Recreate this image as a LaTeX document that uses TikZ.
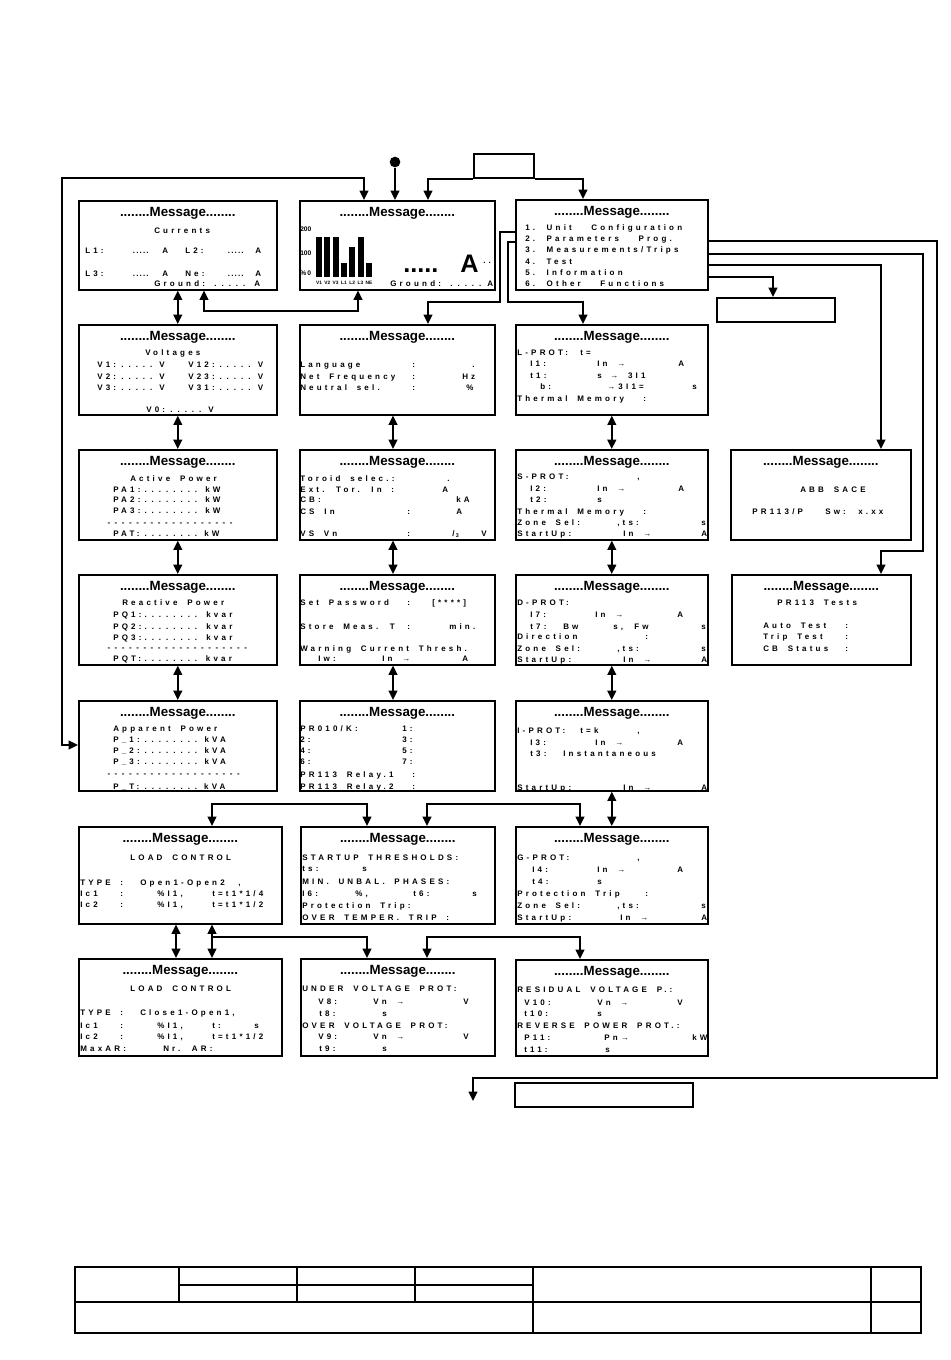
\documentclass[tikz,border=0pt]{standalone}
\usepackage{fontspec}
\setmainfont{Liberation Sans}
\newfontfamily\lcdf[LetterSpace=40,WordSpace=1.8]{Liberation Sans}
\usetikzlibrary{arrows.meta}
\newdimen\lcdcell \lcdcell=5.4pt
\newcommand\ldr[1]{\leaders\hbox to\lcdcell{\hss\rmfamily.\hss}\hskip#1\lcdcell\relax\kern0pt}
\newcommand\dsh[1]{\leaders\hbox to\lcdcell{\hss\rmfamily-\hss}\hskip#1\lcdcell\relax\kern0pt}
\newcommand\tdots{\leaders\hbox to 2.55pt{\hss\rmfamily.\hss}\hskip 12.75pt\relax\kern0pt}
\newcounter{tn}
\newcommand\tx[3]{\stepcounter{tn}\node[lcd] (t\arabic{tn}) at (#1,#2) {#3};}
\newcommand\mbx[5]{\node[box, minimum width=#4, minimum height=#5] (#1) at (#2,#3) {};
 \node[ttl] (#1h) at ([yshift=-9.75pt]#1.north) {........Message........};}
\tikzset{
 box/.style={draw, line width=1.2pt, inner sep=0pt, anchor=north west},
 ebox/.style={draw, line width=1.3pt, inner sep=0pt, anchor=north west, minimum height=18pt},
 ttl/.style={font=\bfseries\fontsize{10pt}{12pt}\selectfont, inner sep=0pt},
 lcd/.style={font=\lcdf\bfseries\fontsize{6pt}{8pt}\selectfont, inner sep=0pt, anchor=mid west},
 ax/.style={font=\bfseries\fontsize{5pt}{6pt}\selectfont, inner sep=0pt, anchor=mid west},
 tiny/.style={font=\bfseries\fontsize{3.6pt}{4pt}\selectfont, inner sep=0pt},
 big/.style={font=\bfseries\fontsize{19pt}{20pt}\selectfont, inner sep=0pt, anchor=base west},
 con/.style={line width=1.4pt},
 arr/.style={con, -{Triangle[length=7pt,width=6.5pt]}},
 dbl/.style={con, {Triangle[length=7pt,width=6.5pt]}-{Triangle[length=7pt,width=6.5pt]}},
}
\begin{document}
\begin{tikzpicture}[x=0.75pt,y=-0.75pt]
\useasboundingbox (0,0) rectangle (950,1360);

% ---------- boxes ----------
\mbx{b11}{78}{200}{148.5pt}{66.75pt}
\mbx{b12}{299}{200}{146.25pt}{66.75pt}
\mbx{b13}{515}{199}{144pt}{67.5pt}
\mbx{b21}{78}{324}{148.5pt}{67.5pt}
\mbx{b22}{299}{324}{146.25pt}{67.5pt}
\mbx{b23}{515}{324}{144pt}{67.5pt}
\mbx{b31}{78}{449}{148.5pt}{67.5pt}
\mbx{b32}{299}{449}{146.25pt}{67.5pt}
\mbx{b33}{515}{449}{144pt}{67.5pt}
\mbx{b34}{730}{449}{135pt}{67.5pt}
\mbx{b41}{78}{574}{148.5pt}{67.5pt}
\mbx{b42}{299}{574}{146.25pt}{67.5pt}
\mbx{b43}{515}{574}{144pt}{67.5pt}
\mbx{b44}{731}{574}{134.25pt}{67.5pt}
\mbx{b51}{78}{700}{148.5pt}{67.5pt}
\mbx{b52}{299}{700}{146.25pt}{67.5pt}
\mbx{b53}{515}{700}{144pt}{67.5pt}
\mbx{b61}{78}{826}{152.25pt}{72.75pt}
\mbx{b62}{300}{826}{145.5pt}{72.75pt}
\mbx{b63}{515}{826}{144pt}{72.75pt}
\mbx{b71}{78}{958}{152.25pt}{72.75pt}
\mbx{b72}{300}{958}{145.5pt}{72.75pt}
\mbx{b73}{515}{959}{144pt}{72pt}

\node[ebox, minimum width=45pt] (eb1) at (473,153) {};
\node[ebox, minimum width=88.5pt] (eb2) at (716,297) {};
\node[ebox, minimum width=133.5pt] (eb3) at (514,1082) {};
\node[circle, fill, inner sep=0pt, minimum size=8pt] (dot) at (395,162) {};

% ---------- texts ----------
% b11 Currents
\tx{154}{230}{Currents}
\tx{85}{250}{L1:} \tx{132}{250}{\tdots} \tx{162}{250}{A} \tx{185}{250}{L2:} \tx{227}{250}{\tdots} \tx{255}{250}{A}
\tx{85}{273}{L3:} \tx{132}{273}{\tdots} \tx{162}{273}{A} \tx{185}{273}{Ne:} \tx{227}{273}{\tdots} \tx{255}{273}{A}
\tx{154}{283}{Ground:\ldr{6}} \tx{254}{283}{A}
% b12 bar graph
\node[ax] (ax1) at (300,228) {200};
\node[ax] (ax2) at (300,252) {100};
\node[ax] (ax3) at (300,272) {\%\,0};
\foreach \xx/\tt/\ll [count=\i] in {316/237/V1, 324.3/237/V2, 332.6/237/V3, 341/263/L1, 349.2/247/L2, 357.5/237/L3, 366/263/NE} {
  \fill (\xx,\tt) rectangle (\xx+6,277);
  \node[tiny] (lb\i) at (\xx+3,283) {\ll};
}
\node[big] (bigdots) at (403,272) {.....};
\node[big] (bigA) at (460,272) {A};
\tx{483}{260}{..}
\tx{390}{283}{Ground:\ldr{6}} \tx{487}{283}{A}
% b13 menu
\tx{525}{227}{1. Unit~~Configuration}
\tx{525}{238}{2. Parameters~~Prog.}
\tx{525}{249}{3. Measurements/Trips}
\tx{525}{261}{4. Test}
\tx{525}{272}{5. Information}
\tx{525}{283}{6. Other~~Functions}
% b21 Voltages
\tx{145}{352}{Voltages}
\tx{97}{364}{V1:\ldr{6}V} \tx{188}{364}{V12:\ldr{6}V}
\tx{97}{376}{V2:\ldr{6}V} \tx{188}{376}{V23:\ldr{6}V}
\tx{97}{387}{V3:\ldr{6}V} \tx{188}{387}{V31:\ldr{6}V}
\tx{146}{409}{V0:\ldr{6}V}
% b22
\tx{300}{364}{Language} \tx{412}{364}{:} \tx{472}{364}{.}
\tx{300}{376}{Net Frequency} \tx{412}{376}{:} \tx{462}{376}{Hz}
\tx{300}{387}{Neutral sel.} \tx{412}{387}{:} \tx{466}{387}{\%}
% b23 L-PROT
\tx{517}{352}{L-PROT:} \tx{580}{352}{t=}
\tx{530}{363}{I1:} \tx{597}{363}{In →} \tx{678}{363}{A}
\tx{530}{375}{t1:} \tx{597}{375}{s} \tx{610}{375}{→ 3I1}
\tx{540}{386}{b:} \tx{607}{386}{→3I1=} \tx{692}{386}{s}
\tx{517}{398}{Thermal Memory} \tx{643}{398}{:}
% b31 Active power
\tx{130}{478}{Active Power}
\tx{113}{489}{PA1:\ldr{9}kW}
\tx{113}{499}{PA2:\ldr{9}kW}
\tx{113}{510}{PA3:\ldr{9}kW}
\tx{105}{522}{\dsh{18}}
\tx{113}{533}{PAT:\ldr{9}kW}
% b32
\tx{300}{478}{Toroid selec.:} \tx{447}{478}{.}
\tx{300}{489}{Ext. Tor. In :} \tx{442}{489}{A}
\tx{300}{499}{CB:} \tx{456}{499}{kA}
\tx{300}{511}{CS In} \tx{407}{511}{:} \tx{456}{511}{A}
\tx{300}{533}{VS Vn} \tx{407}{533}{:} \tx{452}{533}{/\,\raisebox{-1pt}{\fontsize{4pt}{4pt}\selectfont 3}} \tx{481}{533}{V}
% b33 S-PROT
\tx{517}{476}{S-PROT:} \tx{637}{476}{,}
\tx{530}{488}{I2:} \tx{597}{488}{In →} \tx{678}{488}{A}
\tx{530}{499}{t2:} \tx{597}{499}{s}
\tx{517}{511}{Thermal Memory} \tx{643}{511}{:}
\tx{517}{522}{Zone Sel:} \tx{617}{522}{,ts:} \tx{701}{522}{s}
\tx{517}{533}{StartUp:} \tx{623}{533}{In →} \tx{701}{533}{A}
% b34
\tx{800}{489}{ABB SACE}
\tx{752}{511}{PR113/P} \tx{825}{511}{Sw:} \tx{858}{511}{x.xx}
% b41 Reactive
\tx{122}{602}{Reactive Power}
\tx{113}{614}{PQ1:\ldr{9}kvar}
\tx{113}{626}{PQ2:\ldr{9}kvar}
\tx{113}{637}{PQ3:\ldr{9}kvar}
\tx{105}{647}{\dsh{20}}
\tx{113}{658}{PQT:\ldr{9}kvar}
% b42
\tx{300}{602}{Set Password} \tx{407}{602}{:} \tx{432}{602}{[****]}
\tx{300}{626}{Store Meas. T} \tx{407}{626}{:} \tx{449}{626}{min.}
\tx{300}{648}{Warning Current Thresh.}
\tx{318}{658}{Iw:} \tx{382}{658}{In →} \tx{462}{658}{A}
% b43 D-PROT
\tx{517}{602}{D-PROT:}
\tx{530}{614}{I7:} \tx{595}{614}{In →} \tx{677}{614}{A}
\tx{530}{626}{t7:} \tx{563}{626}{Bw} \tx{613}{626}{s,} \tx{634}{626}{Fw} \tx{701}{626}{s}
\tx{517}{636}{Direction} \tx{645}{636}{:}
\tx{517}{648}{Zone Sel:} \tx{617}{648}{,ts:} \tx{701}{648}{s}
\tx{517}{659}{StartUp:} \tx{623}{659}{In →} \tx{701}{659}{A}
% b44
\tx{777}{602}{PR113 Tests}
\tx{763}{625}{Auto Test} \tx{845}{625}{:}
\tx{763}{636}{Trip Test} \tx{845}{636}{:}
\tx{763}{648}{CB Status} \tx{845}{648}{:}
% b51 Apparent
\tx{113}{728}{Apparent Power}
\tx{113}{739}{P\_1:\ldr{9}kVA}
\tx{113}{750}{P\_2:\ldr{9}kVA}
\tx{113}{761}{P\_3:\ldr{9}kVA}
\tx{105}{773}{\dsh{19}}
\tx{113}{786}{P\_T:\ldr{9}kVA}
% b52
\tx{300}{728}{PR010/K:} \tx{402}{728}{1:}
\tx{300}{739}{2:} \tx{402}{739}{3:}
\tx{300}{750}{4:} \tx{402}{750}{5:}
\tx{300}{761}{6:} \tx{402}{761}{7:}
\tx{300}{774}{PR113 Relay.1} \tx{412}{774}{:}
\tx{300}{786}{PR113 Relay.2} \tx{412}{786}{:}
% b53 I-PROT
\tx{517}{730}{I-PROT:} \tx{580}{730}{t=k} \tx{637}{730}{,}
\tx{530}{742}{I3:} \tx{595}{742}{In →} \tx{677}{742}{A}
\tx{530}{753}{t3:} \tx{563}{753}{Instantaneous}
\tx{517}{787}{StartUp:} \tx{623}{787}{In →} \tx{701}{787}{A}
% b61
\tx{130}{857}{LOAD CONTROL}
\tx{80}{882}{TYPE} \tx{120}{882}{:} \tx{140}{882}{Open1-Open2} \tx{238}{882}{,}
\tx{80}{893}{Ic1} \tx{120}{893}{:} \tx{157}{893}{\%I1,} \tx{212}{893}{t=t1*1/4}
\tx{80}{904}{Ic2} \tx{120}{904}{:} \tx{157}{904}{\%I1,} \tx{212}{904}{t=t1*1/2}
% b71
\tx{130}{988}{LOAD CONTROL}
\tx{80}{1012}{TYPE} \tx{120}{1012}{:} \tx{140}{1012}{Close1-Open1,}
\tx{80}{1025}{Ic1} \tx{120}{1025}{:} \tx{157}{1025}{\%I1,} \tx{212}{1025}{t:} \tx{254}{1025}{s}
\tx{80}{1036}{Ic2} \tx{120}{1036}{:} \tx{157}{1036}{\%I1,} \tx{212}{1036}{t=t1*1/2}
\tx{80}{1048}{MaxAR:} \tx{163}{1048}{Nr. AR:}
% b62
\tx{302}{857}{STARTUP THRESHOLDS:}
\tx{302}{868}{ts:} \tx{362}{868}{s}
\tx{302}{881}{MIN. UNBAL. PHASES:}
\tx{302}{893}{I6:} \tx{355}{893}{\%,} \tx{413}{893}{t6:} \tx{472}{893}{s}
\tx{302}{905}{Protection Trip:}
\tx{302}{917}{OVER TEMPER. TRIP :}
% b72
\tx{302}{988}{UNDER VOLTAGE PROT:}
\tx{318}{1001}{V8:} \tx{373}{1001}{Vn →} \tx{463}{1001}{V}
\tx{319}{1013}{t8:} \tx{382}{1013}{s}
\tx{302}{1025}{OVER VOLTAGE PROT:}
\tx{318}{1036}{V9:} \tx{373}{1036}{Vn →} \tx{463}{1036}{V}
\tx{319}{1048}{t9:} \tx{382}{1048}{s}
% b63 G-PROT
\tx{517}{857}{G-PROT:} \tx{637}{857}{,}
\tx{532}{869}{I4:} \tx{597}{869}{In →} \tx{677}{869}{A}
\tx{532}{881}{t4:} \tx{597}{881}{s}
\tx{517}{893}{Protection Trip} \tx{645}{893}{:}
\tx{517}{905}{Zone Sel:} \tx{617}{905}{,ts:} \tx{701}{905}{s}
\tx{517}{917}{StartUp:} \tx{620}{917}{In →} \tx{701}{917}{A}
% b73
\tx{517}{989}{RESIDUAL VOLTAGE P.:}
\tx{524}{1002}{V10:} \tx{597}{1002}{Vn →} \tx{677}{1002}{V}
\tx{524}{1013}{t10:} \tx{597}{1013}{s}
\tx{517}{1025}{REVERSE POWER PROT.:}
\tx{524}{1037}{P11:} \tx{604}{1037}{Pn→} \tx{692}{1037}{kW}
\tx{524}{1049}{t11:} \tx{605}{1049}{s}

% ---------- connectors ----------
\coordinate (xa) at (428,0);
\coordinate (xb) at (583,0);
\coordinate (xc) at (393,0);
\draw[arr] (dot) -- (dot |- b12.north);
\draw[arr] (eb1.south west) -| (xa |- b12.north);
\draw[arr] (eb1.south east) -| (xb |- b13.north);
% big left loop
\coordinate (j0a) at (364,178);
\coordinate (j0b) at (62,178);
\coordinate (j0c) at (62,745);
\draw[dbl] (b12.north -| j0a) -- (j0a) -- (j0b) -- (j0c) -- (b51.west |- j0c);
% column 1
\draw[dbl] (b11.south) -- (b21.north);
\draw[dbl] (b21.south) -- (b31.north);
\draw[dbl] (b31.south) -- (b41.north);
\draw[dbl] (b41.south) -- (b51.north);
% b11 - b12
\coordinate (j1) at (204,311);
\coordinate (j2) at (358,311);
\draw[dbl] (b11.south -| j1) -- (j1) -- (j2) -- (b12.south -| j2);
% column 2
\draw[dbl] (xc |- b22.south) -- (xc |- b32.north);
\draw[dbl] (xc |- b32.south) -- (xc |- b42.north);
\draw[dbl] (xc |- b42.south) -- (xc |- b52.north);
% column 3
\draw[dbl] (b23.south) -- (b33.north);
\draw[dbl] (b33.south) -- (b43.north);
\draw[dbl] (b43.south) -- (b53.north);
\draw[dbl] (b53.south) -- (b63.north);
% menu to second row
\coordinate (j3) at (500,232);
\coordinate (j4) at (500,302);
\coordinate (j5) at (428,302);
\draw[arr] (b13.west |- j3) -- (j3) -- (j4) -- (j5) -- (b22.north -| j5);
\coordinate (j6) at (508,242);
\coordinate (j7) at (508,302);
\coordinate (j8) at (583,302);
\draw[arr] (b13.west |- j6) -- (j6) -- (j7) -- (j8) -- (b23.north -| j8);
% menu right side
\coordinate (j9) at (937,241);
\coordinate (j10) at (937,1078);
\coordinate (j11) at (473,1078);
\coordinate (e1) at (473,1101);
\draw[arr] (b13.east |- j9) -- (j9) -- (j10) -- (j11) -- (e1);
\coordinate (j12) at (923,254);
\coordinate (j13) at (923,551);
\coordinate (j14) at (881,551);
\draw[arr] (b13.east |- j12) -- (j12) -- (j13) -- (j14) -- (b44.north -| j14);
\coordinate (j15) at (881,265);
\draw[arr] (b13.east |- j15) -- (j15) -- (b34.north -| j15);
\coordinate (j16) at (773,277);
\draw[arr] (b13.east |- j16) -- (j16) -- (eb2.north -| j16);
% row 5 to row 6
\coordinate (j17) at (212,804);
\coordinate (j18) at (367,804);
\draw[dbl] (b61.north -| j17) -- (j17) -- (j18) -- (b62.north -| j18);
\coordinate (j19) at (427,804);
\coordinate (j20) at (580,804);
\draw[dbl] (b62.north -| j19) -- (j19) -- (j20) -- (b63.north -| j20);
% row 6 to row 7
\coordinate (xd) at (176,0);
\draw[dbl] (xd |- b61.south) -- (xd |- b71.north);
\coordinate (j21) at (212,937);
\coordinate (j22) at (367,937);
\draw[dbl] (b61.south -| j21) -- (b71.north -| j21);
\draw[arr] (j21) -- (j22) -- (b72.north -| j22);
\coordinate (j23) at (427,937);
\coordinate (j24) at (580,937);
\draw[dbl] (b72.north -| j23) -- (j23) -- (j24) -- (b73.north -| j24);

% ---------- title block ----------
\draw[line width=1.2pt] (75,1267) rectangle (921,1333);
\draw[line width=1.1pt] (179,1267) -- (179,1302) (297,1267) -- (297,1302) (415,1267) -- (415,1302)
  (533,1267) -- (533,1333) (871,1267) -- (871,1333)
  (179,1285) -- (533,1285) (75,1302) -- (921,1302);
\end{tikzpicture}
\end{document}
